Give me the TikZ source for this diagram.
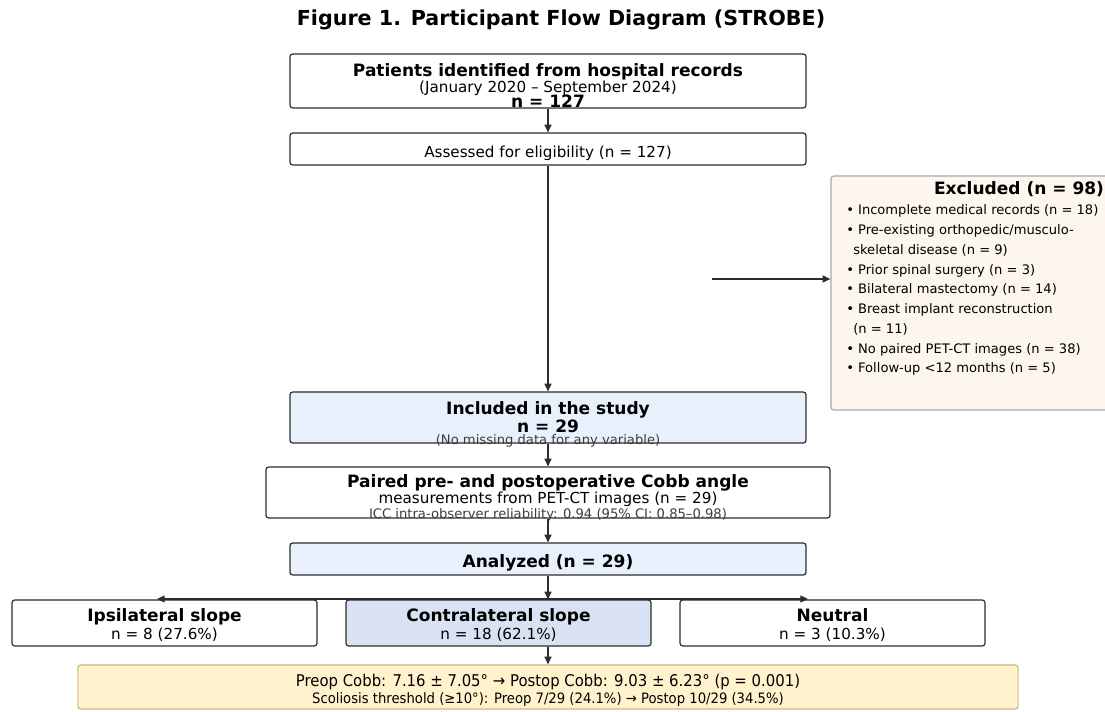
\documentclass[tikz,border=0pt]{standalone}
\usepackage{fontspec}
\setmainfont{DejaVu Sans}
\newfontfamily\condfont[FakeStretch=0.92]{DejaVu Sans}
\usetikzlibrary{arrows.meta}

\definecolor{boxline}{RGB}{45,45,45}
\definecolor{inclblue}{RGB}{232,240,252}
\definecolor{contrablue}{RGB}{217,226,243}
\definecolor{exclfill}{RGB}{253,246,238}
\definecolor{exclline}{RGB}{170,170,170}
\definecolor{resultfill}{RGB}{255,242,204}
\definecolor{resultline}{RGB}{204,184,120}
\definecolor{smallgray}{RGB}{60,60,60}

\begin{document}
\begin{tikzpicture}[x=0.025cm,y=-0.025cm,
    box/.style={draw=boxline,line width=0.85pt,rounded corners=2pt,fill=white,inner sep=0},
    lbl/.style={inner sep=0,text height=0.82em,text depth=0em},
    arr/.style={-{Triangle[length=5.5pt,width=5pt]},line width=0.85pt,draw=boxline}]
    \providecommand{\titlefont}{\fontsize{14.7pt}{17pt}\selectfont\bfseries}
    \providecommand{\headfont}{\fontsize{12.1pt}{14pt}\selectfont\bfseries}
    \providecommand{\subfont}{\fontsize{10.8pt}{13pt}\selectfont}
    \providecommand{\notefont}{\fontsize{9.35pt}{11pt}\selectfont}
    \providecommand{\listfont}{\fontsize{9.3pt}{11pt}\selectfont}
    \useasboundingbox[fill=white] (0,0) rectangle (1105,711);
    \node[lbl] (title) at (561,20) {\titlefont Figure 1. Participant Flow Diagram (STROBE)};
    % main column
    \node[box,minimum width=12.9cm,minimum height=1.35cm] (ident) at (548,81) {};
    \node[lbl] (identa) at (548,71) {\headfont Patients identified from hospital records};
    \node[lbl] (identb) at (548,87) {\subfont (January 2020 – September 2024)};
    \node[lbl] (identc) at (548,102) {\headfont n = 127};
    \node[box,minimum width=12.9cm,minimum height=0.8cm] (assess) at (548,149) {};
    \node[lbl] (assessa) at (548,152) {\subfont Assessed for eligibility (n = 127)};
    \node[box,fill=exclfill,draw=exclline,minimum width=9.4cm,minimum height=5.85cm] (excl) at (1019,293) {};
    \node[lbl] (excla) at (1019,189) {\headfont Excluded (n = 98)};
    \foreach \item [count=\i] in {%
        • Incomplete medical records (n = 18),
        • Pre-existing orthopedic/musculo-,
        \hspace*{5pt}skeletal disease (n = 9),
        • Prior spinal surgery (n = 3),
        • Bilateral mastectomy (n = 14),
        • Breast implant reconstruction,
        \hspace*{5pt}(n = 11),
        • No paired PET-CT images (n = 38),
        • Follow-up <12 months (n = 5)}
        \node[lbl,anchor=west] (exclitem\i) at (846,189.25+19.75*\i) {\listfont\item};
    \node[box,fill=inclblue,minimum width=12.9cm,minimum height=1.275cm] (incl) at (548,417.5) {};
    \node[lbl] (incla) at (548,409) {\headfont Included in the study};
    \node[lbl] (inclb) at (548,427) {\headfont n = 29};
    \node[lbl,text=smallgray] (inclc) at (548,439) {\notefont (No missing data for any variable)};
    \node[box,minimum width=14.1cm,minimum height=1.275cm] (paired) at (548,492.5) {};
    \node[lbl] (paireda) at (548,482) {\headfont Paired pre- and postoperative Cobb angle};
    \node[lbl] (pairedb) at (548,498) {\subfont measurements from PET-CT images (n = 29)};
    \node[lbl,text=smallgray] (pairedc) at (548,513) {\notefont ICC intra-observer reliability: 0.94 (95\% CI: 0.85–0.98)};
    \node[box,fill=inclblue,minimum width=12.9cm,minimum height=0.8cm] (analyzed) at (548,559) {};
    \node[lbl] (analyzeda) at (548,562) {\headfont Analyzed (n = 29)};
    % slope groups
    \node[box,minimum width=7.625cm,minimum height=1.15cm] (ipsi) at (164.5,623) {};
    \node[lbl] (ipsia) at (164.5,616) {\headfont Ipsilateral slope};
    \node[lbl] (ipsib) at (164.5,634) {\subfont n = 8 (27.6\%)};
    \node[box,fill=contrablue,minimum width=7.625cm,minimum height=1.15cm] (contra) at (498.5,623) {};
    \node[lbl] (contraa) at (498.5,616) {\headfont Contralateral slope};
    \node[lbl] (contrab) at (498.5,634) {\subfont n = 18 (62.1\%)};
    \node[box,minimum width=7.625cm,minimum height=1.15cm] (neutral) at (832.5,623) {};
    \node[lbl] (neutrala) at (832.5,616) {\headfont Neutral};
    \node[lbl] (neutralb) at (832.5,634) {\subfont n = 3 (10.3\%)};
    \node[box,fill=resultfill,draw=resultline,minimum width=23.5cm,minimum height=1.1cm] (result) at (548,687) {};
    \node[lbl] (resulta) at (548,681) {\condfont\fontsize{11.5pt}{13pt}\selectfont Preop Cobb: 7.16 ± 7.05° → Postop Cobb: 9.03 ± 6.23° (p = 0.001)};
    \node[lbl] (resultb) at (548,698) {\condfont\fontsize{10.2pt}{12pt}\selectfont Scoliosis threshold (≥10°): Preop 7/29 (24.1\%) → Postop 10/29 (34.5\%)};
    % connectors
    \coordinate (exclfork) at (712,279);
    \coordinate (split) at (548,599);
    \coordinate (ipsitip) at (157,599);
    \coordinate (neutraltip) at (808,599);
    \draw[arr] (ident) -- (assess);
    \draw[arr] (assess) -- (incl);
    \draw[arr] (exclfork) -- (exclfork -| excl.west);
    \draw[arr] (incl) -- (paired);
    \draw[arr] (paired) -- (analyzed);
    \draw[arr] (analyzed.south) -- (analyzed.south |- contra.north);
    \draw[arr] (split) -- (ipsitip);
    \draw[arr] (split) -- (neutraltip);
    \draw[arr] (analyzed.south |- contra.south) -- (result.north);
\end{tikzpicture}
\end{document}
